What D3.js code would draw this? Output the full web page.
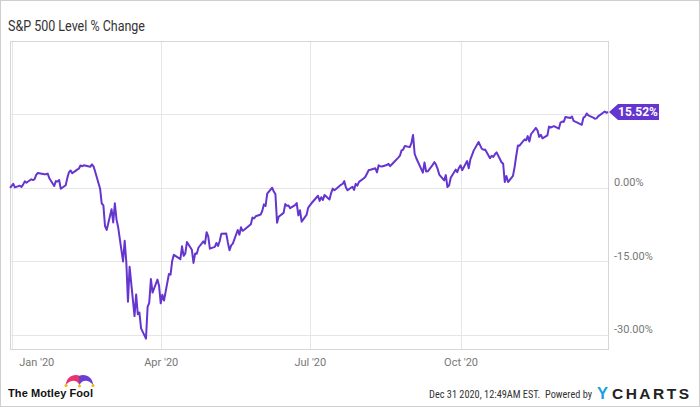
<!DOCTYPE html>
<html lang="en">
<head>
<meta charset="UTF-8">
<title>S&amp;P 500 Level % Change</title>
<script src="https://d3js.org/d3.v7.min.js"></script>
<style>
  body { margin: 0; background: #fff; }
  svg { display: block; font-family: Roboto, "Liberation Sans", sans-serif; }
</style>
</head>
<body>
<script>
    // S&P 500 daily closes, base is the last close of 2019
    var baseDate = "2019-12-31";
    var baseClose = 3230.78;

    var dates = [
        "2020-01-02","2020-01-03","2020-01-06","2020-01-07","2020-01-08","2020-01-09","2020-01-10","2020-01-13","2020-01-14","2020-01-15","2020-01-16","2020-01-17","2020-01-21","2020-01-22","2020-01-23","2020-01-24","2020-01-27","2020-01-28","2020-01-29","2020-01-30","2020-01-31",
        "2020-02-03","2020-02-04","2020-02-05","2020-02-06","2020-02-07","2020-02-10","2020-02-11","2020-02-12","2020-02-13","2020-02-14","2020-02-18","2020-02-19","2020-02-20","2020-02-21","2020-02-24","2020-02-25","2020-02-26","2020-02-27","2020-02-28",
        "2020-03-02","2020-03-03","2020-03-04","2020-03-05","2020-03-06","2020-03-09","2020-03-10","2020-03-11","2020-03-12","2020-03-13","2020-03-16","2020-03-17","2020-03-18","2020-03-19","2020-03-20","2020-03-23","2020-03-24","2020-03-25","2020-03-26","2020-03-27","2020-03-30","2020-03-31",
        "2020-04-01","2020-04-02","2020-04-03","2020-04-06","2020-04-07","2020-04-08","2020-04-09","2020-04-13","2020-04-14","2020-04-15","2020-04-16","2020-04-17","2020-04-20","2020-04-21","2020-04-22","2020-04-23","2020-04-24","2020-04-27","2020-04-28","2020-04-29","2020-04-30",
        "2020-05-01","2020-05-04","2020-05-05","2020-05-06","2020-05-07","2020-05-08","2020-05-11","2020-05-12","2020-05-13","2020-05-14","2020-05-15","2020-05-18","2020-05-19","2020-05-20","2020-05-21","2020-05-22","2020-05-26","2020-05-27","2020-05-28","2020-05-29",
        "2020-06-01","2020-06-02","2020-06-03","2020-06-04","2020-06-05","2020-06-08","2020-06-09","2020-06-10","2020-06-11","2020-06-12","2020-06-15","2020-06-16","2020-06-17","2020-06-18","2020-06-19","2020-06-22","2020-06-23","2020-06-24","2020-06-25","2020-06-26","2020-06-29","2020-06-30",
        "2020-07-01","2020-07-02","2020-07-06","2020-07-07","2020-07-08","2020-07-09","2020-07-10","2020-07-13","2020-07-14","2020-07-15","2020-07-16","2020-07-17","2020-07-20","2020-07-21","2020-07-22","2020-07-23","2020-07-24","2020-07-27","2020-07-28","2020-07-29","2020-07-30","2020-07-31",
        "2020-08-03","2020-08-04","2020-08-05","2020-08-06","2020-08-07","2020-08-10","2020-08-11","2020-08-12","2020-08-13","2020-08-14","2020-08-17","2020-08-18","2020-08-19","2020-08-20","2020-08-21","2020-08-24","2020-08-25","2020-08-26","2020-08-27","2020-08-28","2020-08-31",
        "2020-09-01","2020-09-02","2020-09-03","2020-09-04","2020-09-08","2020-09-09","2020-09-10","2020-09-11","2020-09-14","2020-09-15","2020-09-16","2020-09-17","2020-09-18","2020-09-21","2020-09-22","2020-09-23","2020-09-24","2020-09-25","2020-09-28","2020-09-29","2020-09-30",
        "2020-10-01","2020-10-02","2020-10-05","2020-10-06","2020-10-07","2020-10-08","2020-10-09","2020-10-12","2020-10-13","2020-10-14","2020-10-15","2020-10-16","2020-10-19","2020-10-20","2020-10-21","2020-10-22","2020-10-23","2020-10-26","2020-10-27","2020-10-28","2020-10-29","2020-10-30",
        "2020-11-02","2020-11-03","2020-11-04","2020-11-05","2020-11-06","2020-11-09","2020-11-10","2020-11-11","2020-11-12","2020-11-13","2020-11-16","2020-11-17","2020-11-18","2020-11-19","2020-11-20","2020-11-23","2020-11-24","2020-11-25","2020-11-27","2020-11-30",
        "2020-12-01","2020-12-02","2020-12-03","2020-12-04","2020-12-07","2020-12-08","2020-12-09","2020-12-10","2020-12-11","2020-12-14","2020-12-15","2020-12-16","2020-12-17","2020-12-18","2020-12-21","2020-12-22","2020-12-23","2020-12-24","2020-12-28","2020-12-29","2020-12-30"
    ];

    var closes = [
        3257.85,3234.85,3246.28,3237.18,3253.05,3274.70,3265.35,3288.13,3283.15,3289.29,3316.81,3329.62,3320.79,3321.75,3325.54,3295.47,3243.63,3276.24,3273.40,3283.66,3225.52,
        3248.92,3297.59,3334.69,3345.78,3327.71,3352.09,3357.75,3379.45,3373.94,3380.16,3370.29,3386.15,3373.23,3337.75,3225.89,3128.21,3116.39,2978.76,2954.22,
        3090.23,3003.37,3130.12,3023.94,2972.37,2746.56,2882.23,2741.38,2480.64,2711.02,2386.13,2529.19,2398.10,2409.39,2304.92,2237.40,2447.33,2475.56,2630.07,2541.47,2626.65,2584.59,
        2470.50,2526.90,2488.65,2663.68,2659.41,2749.98,2789.82,2761.63,2846.06,2783.36,2799.55,2874.56,2823.16,2736.56,2799.31,2797.80,2836.74,2878.48,2863.39,2939.51,2912.43,
        2830.71,2842.74,2868.44,2848.42,2881.19,2929.80,2930.19,2870.12,2820.00,2852.50,2863.70,2953.91,2922.94,2971.61,2948.51,2955.45,2991.77,3036.13,3029.73,3044.31,
        3055.73,3080.82,3122.87,3112.35,3193.93,3232.39,3207.18,3190.14,3002.10,3041.31,3066.59,3124.74,3113.49,3115.34,3097.74,3117.86,3131.29,3050.33,3083.76,3009.05,3053.24,3100.29,
        3115.86,3130.01,3179.72,3145.32,3169.94,3152.05,3185.04,3155.22,3197.52,3226.56,3215.57,3224.73,3251.84,3257.30,3276.02,3235.66,3215.63,3239.41,3218.44,3258.44,3246.22,3271.12,
        3294.61,3306.51,3327.77,3349.16,3351.28,3360.47,3333.69,3380.35,3373.43,3372.85,3381.99,3389.78,3374.85,3385.51,3397.16,3431.28,3443.62,3478.73,3484.55,3508.01,3500.31,
        3526.65,3580.84,3455.06,3426.96,3331.84,3398.96,3339.19,3340.97,3383.54,3401.20,3385.49,3357.01,3319.47,3281.06,3315.57,3236.92,3246.59,3298.46,3351.60,3335.47,3363.00,
        3380.80,3348.42,3408.60,3360.97,3419.44,3446.83,3477.14,3534.22,3511.93,3488.67,3483.34,3483.81,3426.92,3443.12,3435.56,3453.49,3465.39,3400.97,3390.68,3271.03,3310.11,3269.96,
        3310.24,3369.16,3443.44,3510.45,3509.44,3550.50,3545.53,3572.66,3537.01,3585.15,3626.91,3609.53,3567.79,3581.87,3557.54,3577.59,3635.41,3629.65,3638.35,3621.63,
        3662.45,3669.01,3666.72,3699.12,3691.96,3702.25,3672.82,3668.10,3663.46,3647.49,3694.62,3701.17,3722.48,3709.41,3694.92,3687.26,3690.01,3703.06,3735.36,3727.04,3732.04
    ];

    var xTickDates = ["2020-01-01", "2020-04-01", "2020-07-01", "2020-10-01"];
    var xTickLabels = ["Jan '20", "Apr '20", "Jul '20", "Oct '20"];
    var yTicks = [15, 0, -15, -30];

    var W = 700, H = 407;
    var plot = {left: 10, right: 608, top: 41, bottom: 349};
    var purple = "#6535cf";

    var parse = d3.utcParse("%Y-%m-%d");

    var series = [{date: parse(baseDate), pct: 0}].concat(dates.map(function (d, i) {
        return {date: parse(d), pct: (closes[i] / baseClose - 1) * 100};
    }));
    var last = series[series.length - 1];

    var svg = d3.select("body").append("svg")
        .attr("width", W)
        .attr("height", H);

    // outer frame
    svg.append("rect")
        .attr("x", 0.5).attr("y", 0.5)
        .attr("width", W - 1).attr("height", H - 1)
        .attr("fill", "#fff")
        .attr("stroke", "#cfcfcf");

    svg.append("text")
        .attr("x", 8).attr("y", 31)
        .attr("font-size", 14)
        .attr("textLength", 137)
        .attr("lengthAdjust", "spacingAndGlyphs")
        .attr("fill", "#333")
        .text("S&P 500 Level % Change");

    var x = d3.scaleUtc()
        .domain([parse(baseDate), last.date])
        .range([plot.left, plot.right]);

    var y = d3.scaleLinear()
        .domain([-32.86, 30])
        .range([plot.bottom, plot.top]);

    // gridlines
    var grid = svg.append("g").attr("stroke", "#e6e6e6").attr("stroke-width", 1);
    grid.selectAll(".hg")
        .data(yTicks)
        .enter().append("line")
        .attr("x1", plot.left).attr("x2", plot.right)
        .attr("y1", function (d) { return Math.round(y(d)) + 0.5; })
        .attr("y2", function (d) { return Math.round(y(d)) + 0.5; });
    grid.selectAll(".vg")
        .data(xTickDates)
        .enter().append("line")
        .attr("y1", plot.top).attr("y2", plot.bottom)
        .attr("x1", function (d) { return Math.round(x(parse(d))) + 0.5; })
        .attr("x2", function (d) { return Math.round(x(parse(d))) + 0.5; });

    // plot frame
    svg.append("rect")
        .attr("x", plot.left + 0.5).attr("y", plot.top + 0.5)
        .attr("width", plot.right - plot.left).attr("height", plot.bottom - plot.top)
        .attr("fill", "none")
        .attr("stroke", "#d6d6d6");

    // x axis
    var xAxis = d3.axisBottom(x)
        .tickValues(xTickDates.map(parse))
        .tickSize(0)
        .tickFormat(function (d, i) { return xTickLabels[i]; });
    var gx = svg.append("g")
        .attr("transform", "translate(0," + plot.bottom + ")")
        .call(xAxis);
    gx.select(".domain").remove();
    gx.selectAll("text")
        .attr("font-family", "Roboto, sans-serif")
        .attr("font-size", 11)
        .attr("fill", "#777")
        .attr("dy", null)
        .attr("y", 17);
    // first label is nudged right to stay inside the frame
    gx.selectAll(".tick").filter(function (d, i) { return i === 0; })
        .select("text").attr("text-anchor", "start").attr("x", 7);

    // y axis; a label hidden under the last-value tag is left out, as in the source
    var yAxis = d3.axisRight(y)
        .tickValues(yTicks)
        .tickSize(0)
        .tickFormat(function (d) {
            return Math.abs(y(d) - y(last.pct)) < 12 ? "" : d.toFixed(2) + "%";
        });
    var gy = svg.append("g")
        .attr("transform", "translate(" + plot.right + ",0)")
        .call(yAxis);
    gy.select(".domain").remove();
    gy.selectAll("text")
        .attr("font-family", "Roboto, sans-serif")
        .attr("font-size", 11)
        .attr("fill", "#777")
        .attr("x", 6)
        .attr("dy", "-0.2em");

    // line
    var line = d3.line()
        .x(function (d) { return x(d.date); })
        .y(function (d) { return y(d.pct); });

    svg.append("path")
        .datum(series)
        .attr("fill", "none")
        .attr("stroke", purple)
        .attr("stroke-width", 2)
        .attr("stroke-linejoin", "round")
        .attr("d", line);

    // last value tag
    var ty = y(last.pct);
    var tx = plot.right + 1;
    var tag = svg.append("g").attr("transform", "translate(" + tx + "," + ty + ")");
    tag.append("path")
        .attr("d", "M0,0 L9,-8 L50,-8 L50,8 L9,8 Z")
        .attr("fill", purple);
    tag.append("text")
        .attr("x", 29).attr("y", 4.5)
        .attr("text-anchor", "middle")
        .attr("font-family", "Roboto, sans-serif")
        .attr("font-weight", "bold")
        .attr("font-size", 12)
        .attr("fill", "#fff")
        .text(last.pct.toFixed(2) + "%");

    // footer: Motley Fool mark
    var hat = svg.append("g");
    hat.append("path")
        .attr("d", "M66,385 C66,377 74,373 80,376 C80,380 80,383 79.5,385 C77,380 71,379 66,385 Z")
        .attr("fill", "#e8336b");
    hat.append("path")
        .attr("d", "M93,385 C93,377 85,373 79,376 C79,380 79,383 79.5,385 C82,380 88,379 93,385 Z")
        .attr("fill", "#6b3fcf");
    hat.selectAll("circle")
        .data([[66, 385.5], [79.5, 386], [93, 385.5]])
        .enter().append("circle")
        .attr("cx", function (d) { return d[0]; })
        .attr("cy", function (d) { return d[1]; })
        .attr("r", 1.6)
        .attr("fill", "#f5b719");

    svg.append("text")
        .attr("x", 8).attr("y", 397)
        .attr("font-family", "'Liberation Sans', Arial, sans-serif")
        .attr("font-weight", "bold")
        .attr("font-size", 11)
        .attr("textLength", 85)
        .attr("fill", "#111")
        .text("The Motley Fool");

    // footer: timestamp and credit (narrow face, like the source)
    svg.append("text")
        .attr("x", 429).attr("y", 398)
        .attr("font-family", "'Liberation Sans Narrow', 'Roboto Condensed', Roboto, sans-serif")
        .attr("font-size", 10.5)
        .attr("textLength", 163)
        .attr("lengthAdjust", "spacingAndGlyphs")
        .attr("fill", "#333")
        .attr("xml:space", "preserve")
        .text("Dec 31 2020, 12:49AM EST.  Powered by");

    svg.append("text")
        .attr("x", 597).attr("y", 399)
        .attr("font-family", "'Liberation Sans', Arial, sans-serif")
        .attr("font-weight", "bold")
        .attr("font-size", 16.5)
        .attr("fill", "#1a9fe3")
        .text("Y");
    svg.append("text")
        .attr("x", 612).attr("y", 399)
        .attr("font-family", "'Liberation Sans', Arial, sans-serif")
        .attr("font-weight", "bold")
        .attr("font-size", 15.5)
        .attr("textLength", 77)
        .attr("fill", "#222")
        .text("CHARTS");
</script>
</body>
</html>
